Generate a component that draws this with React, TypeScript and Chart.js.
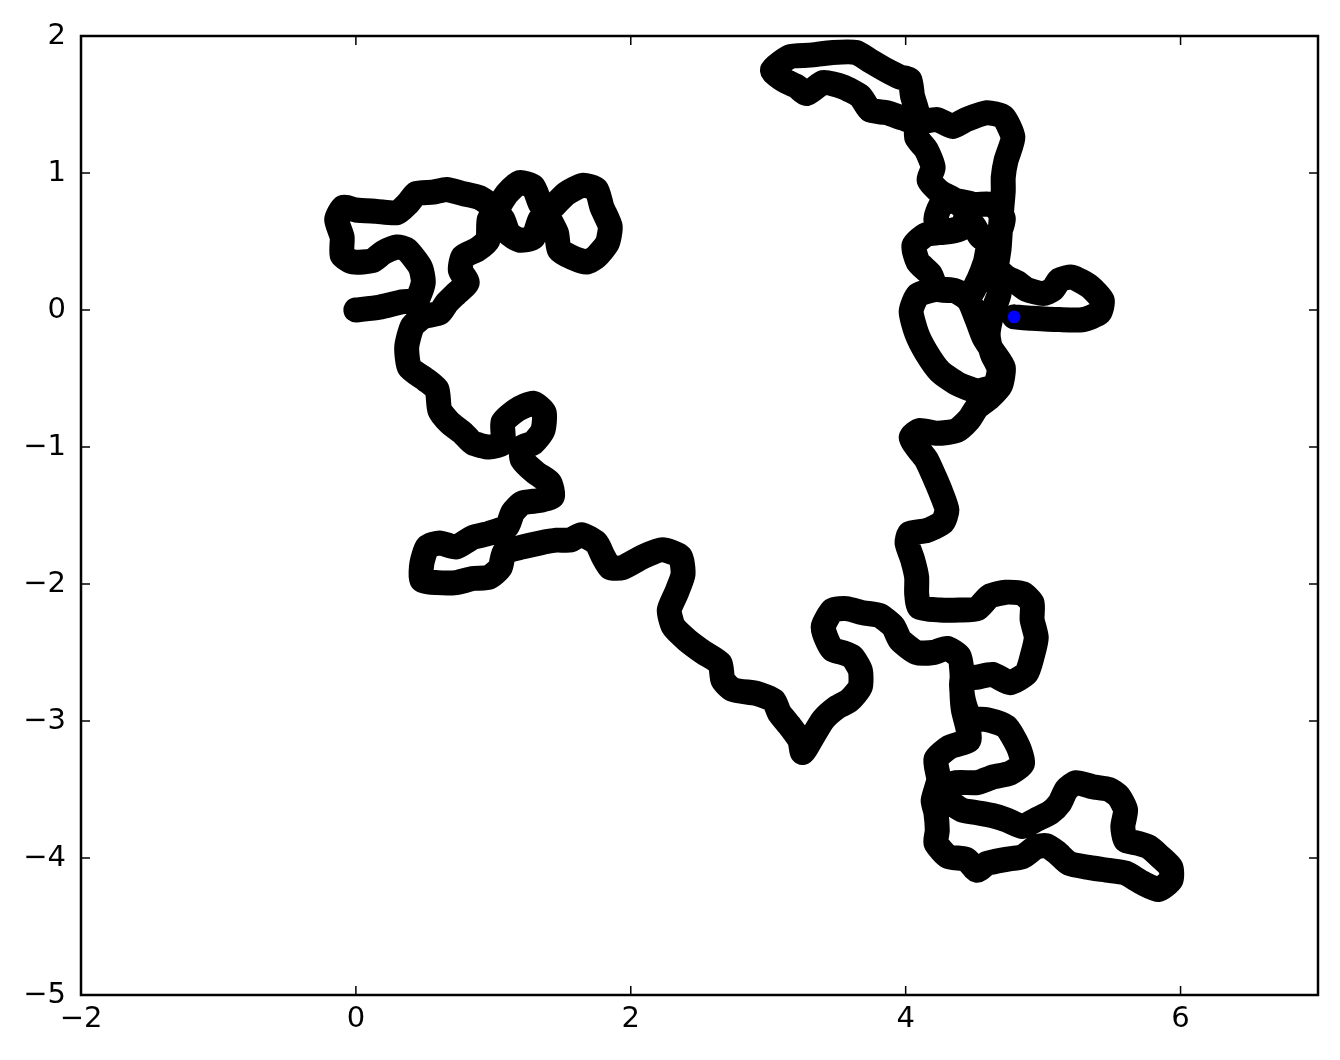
import { useEffect, useRef } from 'react';
import { Chart, registerables } from 'chart.js';

Chart.register(...registerables);

const X_TICKS = [-2, 0, 2, 4, 6];
const Y_TICKS = [2, 1, 0, -1, -2, -3, -4, -5];

// random walk, split into stretches (x, y)
const WALK_WEST = [
  [0, 0], [0.17, 0.02], [0.34, 0.06], [0.44, 0.07], [0.49, 0.2], [0.47, 0.31], [0.37, 0.44], [0.3, 0.46],
  [0.2, 0.42], [0.12, 0.36], [-0.02, 0.35], [-0.1, 0.4], [-0.1, 0.53], [-0.14, 0.66], [-0.09, 0.75], [0.0, 0.73],
  [0.15, 0.72], [0.3, 0.71], [0.38, 0.78], [0.44, 0.85], [0.56, 0.86], [0.66, 0.88], [0.78, 0.85], [0.9, 0.82],
  [1.0, 0.75],
];

const WALK_LOOPS = [
  [1.07, 0.66], [1.11, 0.56], [1.19, 0.51], [1.29, 0.53], [1.34, 0.66], [1.43, 0.75], [1.53, 0.85], [1.65, 0.91],
  [1.75, 0.88], [1.79, 0.75], [1.85, 0.61], [1.83, 0.49], [1.75, 0.39], [1.68, 0.35], [1.58, 0.38], [1.48, 0.44],
  [1.46, 0.56], [1.41, 0.66], [1.34, 0.78], [1.29, 0.9], [1.19, 0.93], [1.1, 0.85], [1.04, 0.76], [0.97, 0.66],
];

const WALK_SOUTH = [
  [0.96, 0.51], [0.88, 0.44], [0.78, 0.39], [0.76, 0.29], [0.81, 0.2], [0.73, 0.12], [0.66, 0.05], [0.61, -0.02],
  [0.49, -0.05], [0.41, -0.12], [0.37, -0.27], [0.39, -0.42], [0.51, -0.51], [0.59, -0.58], [0.61, -0.73], [0.68, -0.82],
  [0.78, -0.9], [0.85, -0.97], [0.97, -1.0], [1.07, -0.97], [1.07, -0.82], [1.17, -0.73], [1.29, -0.68], [1.37, -0.75],
  [1.36, -0.88], [1.29, -0.97], [1.21, -1.0], [1.21, -1.09], [1.31, -1.19], [1.41, -1.26], [1.43, -1.36], [1.34, -1.39],
  [1.21, -1.41], [1.14, -1.48], [1.1, -1.58], [0.97, -1.63], [0.85, -1.66], [0.73, -1.73], [0.61, -1.7], [0.52, -1.73],
  [0.48, -1.85], [0.48, -1.97], [0.59, -1.99], [0.73, -1.99], [0.85, -1.96], [0.97, -1.95], [1.05, -1.88], [1.08, -1.77],
  [1.21, -1.73], [1.34, -1.7], [1.46, -1.68], [1.56, -1.68], [1.64, -1.64], [1.75, -1.7], [1.8, -1.8], [1.85, -1.88],
  [1.94, -1.88], [2.09, -1.8], [2.23, -1.75], [2.36, -1.8], [2.38, -1.93], [2.33, -2.07], [2.28, -2.19], [2.31, -2.31],
  [2.41, -2.41], [2.53, -2.5], [2.65, -2.58], [2.67, -2.7], [2.74, -2.77], [2.92, -2.8], [3.04, -2.85], [3.08, -2.94],
  [3.16, -3.04], [3.23, -3.14], [3.25, -3.23], [3.32, -3.12], [3.4, -2.99], [3.5, -2.9], [3.59, -2.85], [3.67, -2.75],
  [3.67, -2.63], [3.61, -2.53], [3.54, -2.5], [3.47, -2.48], [3.42, -2.39], [3.4, -2.31], [3.47, -2.19], [3.57, -2.18],
  [3.69, -2.21], [3.81, -2.23], [3.91, -2.31], [3.96, -2.41], [4.08, -2.5], [4.2, -2.5], [4.3, -2.47], [4.39, -2.53],
  [4.41, -2.65],
];

const WALK_LOWER = [
  [4.41, -2.8], [4.42, -2.92], [4.45, -3.04], [4.46, -3.14], [4.32, -3.19], [4.22, -3.28], [4.24, -3.43], [4.2, -3.58],
  [4.22, -3.67], [4.23, -3.8], [4.22, -3.89], [4.31, -3.99], [4.44, -4.01], [4.52, -4.09], [4.59, -4.04], [4.73, -4.01],
  [4.85, -3.99], [4.95, -3.92], [5.02, -3.91], [5.1, -3.96], [5.19, -4.04], [5.34, -4.07], [5.48, -4.09], [5.6, -4.11],
  [5.72, -4.18], [5.84, -4.23], [5.93, -4.16], [5.93, -4.07], [5.85, -3.99], [5.77, -3.92], [5.68, -3.89], [5.6, -3.87],
  [5.58, -3.77], [5.6, -3.65], [5.55, -3.55], [5.48, -3.5], [5.36, -3.48], [5.24, -3.45], [5.17, -3.5], [5.12, -3.6],
  [5.05, -3.67], [4.95, -3.72], [4.85, -3.77], [4.73, -3.72], [4.63, -3.69], [4.52, -3.67], [4.41, -3.65], [4.31, -3.58],
  [4.25, -3.5], [4.37, -3.45], [4.52, -3.45], [4.63, -3.41], [4.76, -3.38], [4.85, -3.31], [4.82, -3.19], [4.73, -3.04],
  [4.59, -2.99], [4.47, -2.98], [4.42, -2.85], [4.41, -2.7],
];

const WALK_EAST = [
  [4.52, -2.68], [4.63, -2.66], [4.76, -2.72], [4.88, -2.65], [4.92, -2.53], [4.95, -2.39], [4.92, -2.26], [4.92, -2.14],
  [4.85, -2.07], [4.73, -2.06], [4.61, -2.09], [4.52, -2.18], [4.39, -2.19], [4.25, -2.19], [4.1, -2.17], [4.08, -2.07],
  [4.08, -1.95], [4.05, -1.82], [4.01, -1.7], [4.03, -1.63], [4.15, -1.61], [4.27, -1.55], [4.3, -1.46], [4.26, -1.34],
  [4.21, -1.22], [4.15, -1.09], [4.08, -1.0], [4.04, -0.93], [4.1, -0.88], [4.23, -0.9], [4.37, -0.88], [4.46, -0.8],
  [4.52, -0.71], [4.61, -0.64], [4.69, -0.55],
];

const WALK_NORTH = [
  [4.71, -0.42], [4.64, -0.31], [4.57, -0.2], [4.52, -0.07], [4.46, 0.07], [4.36, 0.14], [4.23, 0.15], [4.09, 0.11],
  [4.04, -0.01], [4.08, -0.17], [4.15, -0.31], [4.25, -0.45], [4.38, -0.54], [4.52, -0.59], [4.65, -0.55], [4.68, -0.43],
  [4.63, -0.32], [4.6, -0.18], [4.63, -0.02], [4.68, 0.12], [4.66, 0.3], [4.68, 0.45], [4.69, 0.6], [4.7, 0.75],
  [4.71, 0.87], [4.71, 0.97], [4.73, 1.09], [4.78, 1.26], [4.71, 1.41], [4.59, 1.44], [4.44, 1.39], [4.34, 1.34],
  [4.23, 1.39], [4.08, 1.37], [3.98, 1.4], [3.86, 1.44], [3.74, 1.46], [3.67, 1.56], [3.54, 1.63], [3.4, 1.66],
  [3.28, 1.58], [3.21, 1.63], [3.11, 1.68], [3.03, 1.75], [3.16, 1.85], [3.3, 1.86], [3.47, 1.88], [3.64, 1.88],
  [3.74, 1.82], [3.86, 1.75], [3.96, 1.7], [4.03, 1.68], [4.05, 1.56], [4.08, 1.46], [4.08, 1.37], [4.08, 1.26],
  [4.15, 1.17], [4.2, 1.04], [4.17, 0.95], [4.25, 0.86], [4.36, 0.8], [4.44, 0.72], [4.41, 0.6], [4.29, 0.57],
  [4.22, 0.66], [4.26, 0.77], [4.36, 0.8], [4.5, 0.77], [4.63, 0.77], [4.71, 0.67], [4.67, 0.55], [4.55, 0.53],
  [4.49, 0.62], [4.41, 0.6], [4.29, 0.57], [4.15, 0.55], [4.06, 0.47], [4.09, 0.35], [4.18, 0.26], [4.23, 0.15],
  [4.36, 0.14], [4.46, 0.1], [4.53, 0.22], [4.58, 0.35], [4.6, 0.44],
];

const WALK_END = [
  [4.63, 0.34], [4.73, 0.24], [4.81, 0.2], [4.88, 0.15], [5.0, 0.12], [5.07, 0.15], [5.12, 0.22], [5.21, 0.24],
  [5.34, 0.17], [5.43, 0.07], [5.41, -0.02], [5.29, -0.07], [5.12, -0.07], [4.92, -0.06], [4.79, -0.05],
];

const LAST_POS = [4.79, -0.05];

const TICK_FONT = { family: 'DejaVu Sans', size: 29 };
const fmt = (v: any) => String(v).replace('-', '\u2212');

// matplotlib-ish frame with inward ticks on all four sides
const framePlugin = {
  id: 'frame',
  afterDraw(chart: any) {
    const { ctx, chartArea: a, scales } = chart;
    const L = 9;
    ctx.save();
    ctx.strokeStyle = '#000';
    ctx.lineWidth = 1.5;
    ctx.beginPath();
    X_TICKS.forEach((v) => {
      const p = scales.x.getPixelForValue(v);
      ctx.moveTo(p, a.bottom); ctx.lineTo(p, a.bottom - L);
      ctx.moveTo(p, a.top); ctx.lineTo(p, a.top + L);
    });
    Y_TICKS.forEach((v) => {
      const p = scales.y.getPixelForValue(v);
      ctx.moveTo(a.left, p); ctx.lineTo(a.left + L, p);
      ctx.moveTo(a.right, p); ctx.lineTo(a.right - L, p);
    });
    ctx.stroke();
    ctx.lineWidth = 2.5;
    ctx.strokeRect(a.left, a.top, a.right - a.left, a.bottom - a.top);
    ctx.restore();
  },
};

export default function App() {
  const ref = useRef<HTMLCanvasElement>(null);
  const ci = useRef<Chart | null>(null);

  useEffect(() => {
    document.body.style.margin = '0';
    if (!ref.current) return;
    ci.current?.destroy();

    const walk = [...WALK_WEST, ...WALK_LOOPS, ...WALK_SOUTH, ...WALK_LOWER, ...WALK_EAST, ...WALK_NORTH, ...WALK_END]
      .map(([x, y]) => ({ x, y }));

    ci.current = new Chart(ref.current, {
      type: 'scatter',
      data: {
        datasets: [
          {
            data: [{ x: LAST_POS[0], y: LAST_POS[1] }],
            backgroundColor: '#0000ff', borderColor: '#000', borderWidth: 1.2,
            pointRadius: 7, pointHoverRadius: 7, order: 0,
          },
          {
            data: walk, showLine: true, borderColor: '#000', borderWidth: 25,
            borderCapStyle: 'round', borderJoinStyle: 'round', tension: 0.2,
            pointRadius: 0, pointHoverRadius: 0, order: 1,
          },
        ],
      },
      options: {
        animation: false, responsive: true, maintainAspectRatio: false,
        layout: { padding: { left: 0, top: 36, right: 22, bottom: 0 } },
        plugins: { legend: { display: false }, tooltip: { enabled: false } },
        scales: {
          x: {
            type: 'linear', min: -2, max: 7,
            afterBuildTicks: (s: any) => { s.ticks = X_TICKS.map((value) => ({ value })); },
            afterFit: (s: any) => { s.height = 65; },
            grid: { display: false, drawTicks: false }, border: { display: false },
            ticks: { font: TICK_FONT, color: '#000', padding: 7, maxRotation: 0, callback: fmt },
          },
          y: {
            type: 'linear', min: -5, max: 2,
            afterBuildTicks: (s: any) => { s.ticks = Y_TICKS.map((value) => ({ value })); },
            afterFit: (s: any) => { s.width = 81; },
            grid: { display: false, drawTicks: false }, border: { display: false },
            ticks: { font: TICK_FONT, color: '#000', padding: 15, callback: fmt },
          },
        },
      },
      plugins: [framePlugin],
    });

    return () => ci.current?.destroy();
  }, []);

  return (
    <div style={{ position: 'relative', width: 1340, height: 1060, background: '#fff' }}>
      <canvas ref={ref} />
    </div>
  );
}
